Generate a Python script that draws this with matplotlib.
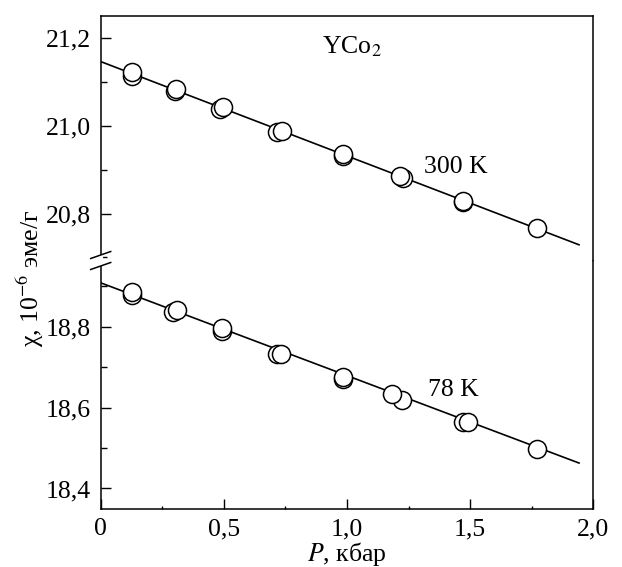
import matplotlib.pyplot as plt
from matplotlib.lines import Line2D
from matplotlib.ticker import MultipleLocator, FuncFormatter

plt.rcParams['font.family'] = ['Liberation Serif', 'DejaVu Serif']
plt.rcParams['mathtext.fontset'] = 'stix'

# 300 K, two runs
p300_a = [0.126, 0.304, 0.495, 0.735, 0.982, 1.215, 1.472, 1.773]
chi300_a = [21.124, 21.084, 21.044, 20.989, 20.936, 20.886, 20.829, 20.767]
p300_b = [0.126, 0.300, 0.484, 0.717, 0.982, 1.226, 1.472]
chi300_b = [21.115, 21.080, 21.038, 20.987, 20.932, 20.882, 20.826]

# 78 K, two runs
p78_a = [0.126, 0.309, 0.494, 0.732, 0.985, 1.181, 1.490, 1.773]
chi78_a = [18.887, 18.841, 18.796, 18.734, 18.676, 18.635, 18.565, 18.498]
p78_b = [0.126, 0.292, 0.494, 0.714, 0.985, 1.225, 1.470]
chi78_b = [18.878, 18.837, 18.790, 18.734, 18.672, 18.620, 18.565]

# fitted lines
fit_p = [0.0, 1.942]
fit_300 = [21.147, 20.729]
fit_78 = [18.909, 18.463]

FS = 18.5

fig = plt.figure(figsize=(6.22, 5.67), dpi=100)
L, R = 100.7 / 622, 593.3 / 622
ybrk = 1 - 261 / 567
ytop = 1 - 16 / 567
ybot = 1 - 508.7 / 567
ax1 = fig.add_axes([L, ybrk, R - L, ytop - ybrk])
ax2 = fig.add_axes([L, ybot, R - L, ybrk - ybot])

comma = FuncFormatter(lambda v, pos: '0' if abs(v) < 1e-9 else ('%.1f' % v).replace('.', ','))

mk = dict(marker='o', ms=13, mfc='white', mec='black', mew=1.1, ls='none', zorder=3)
for ax, pa, ca, pb, cb, fit in [(ax1, p300_a, chi300_a, p300_b, chi300_b, fit_300),
                                (ax2, p78_a, chi78_a, p78_b, chi78_b, fit_78)]:
    ax.plot(fit_p, fit, color='black', lw=1.2, zorder=2)
    ax.plot(pb, cb, **mk)
    ax.plot(pa, ca, **mk)
    ax.set_xlim(0, 2.0)
    ax.yaxis.set_major_locator(MultipleLocator(0.2))
    ax.yaxis.set_minor_locator(MultipleLocator(0.1))
    ax.yaxis.set_major_formatter(comma)
    ax.xaxis.set_major_locator(MultipleLocator(0.5))
    ax.xaxis.set_minor_locator(MultipleLocator(0.25))
    ax.xaxis.set_major_formatter(comma)
    ax.tick_params(which='both', direction='in', right=False, top=False, labelsize=FS)
    ax.tick_params(which='major', length=7, width=1)
    ax.tick_params(axis='y', which='minor', length=4, width=1)
    ax.tick_params(axis='x', which='minor', length=2, width=1)
    ax.tick_params(axis='both', pad=7)
    for s in ax.spines.values():
        s.set_linewidth(1.1)

ax1.set_ylim(20.692, 21.251)
ax2.set_ylim(18.35, 18.963)
ax1.spines['bottom'].set_visible(False)
ax2.spines['top'].set_visible(False)
ax1.tick_params(axis='x', which='both', bottom=False, labelbottom=False)

ax1.text(1.02, 21.18, r'YCo$_2$', fontsize=FS, ha='center', va='center')
ax1.text(1.44, 20.907, '300 K', fontsize=FS, ha='center', va='center')
ax2.text(1.43, 18.643, '78 K', fontsize=FS, ha='center', va='center')

ax2.set_xlabel(r'$P$, кбар', fontsize=FS, labelpad=0)
fig.text(30 / 622, 1 - 278 / 567, r'χ, 10$^{-6}$ эме/г', rotation=90,
         fontsize=FS, ha='center', va='center')

# axis break mark on the left spine
xb = L
fig.add_artist(Line2D([xb, xb], [1 - 257 / 567, 1 - 264 / 567], color='white', lw=3, zorder=10))
for yc in (255, 266):
    fig.add_artist(Line2D([xb - 10 / 622, xb + 10 / 622],
                          [1 - (yc + 3.5) / 567, 1 - (yc - 3.5) / 567],
                          color='black', lw=1.1, zorder=11))

fig.savefig('out.png', dpi=100)
